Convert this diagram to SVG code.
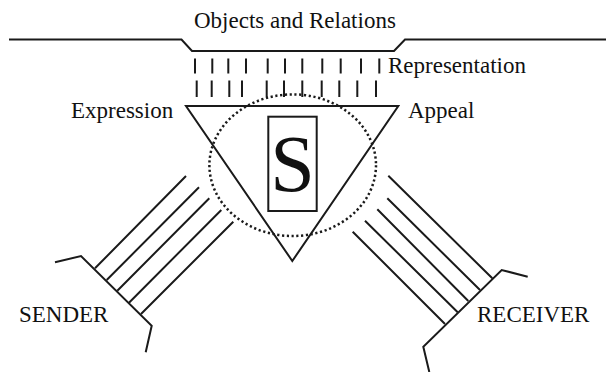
<svg xmlns="http://www.w3.org/2000/svg" width="606" height="372" viewBox="0 0 606 372">
<style>
.ln{fill:none;stroke:#1a1a1a;stroke-width:2;stroke-linejoin:miter;stroke-linecap:butt}
.tx{font-family:"Liberation Serif","Times New Roman",serif;font-size:23px;fill:#111}
.dot{fill:none;stroke:#1a1a1a;stroke-width:2.5;stroke-dasharray:2.2 2.6}
</style>
<rect width="606" height="372" fill="#fff"/>
<g id="objects">
<polyline class="ln" points="9,39.5 181.5,39.5 192,51 394,51 405,39.5 606,39.5"/>
<text class="tx" x="194" y="28">Objects and Relations</text>
</g>
<g id="representation">
<path class="ln" d="M195,58.5v15M212.3,58.5v15M228.3,58.5v15M246,58.5v15M267.7,58.5v15M285,58.5v15M302.3,58.5v15M322.3,58.5v15M340.7,58.5v15M361,58.5v15M379.3,58.5v15"/>
<path class="ln" d="M196.7,80.5v16.5M211.7,80.5v16.5M229.3,80.5v16.5M242,80.5v16.5M266.7,80.5v16.5M284,80.5v16.5M302.3,80.5v16.5M321.7,80.5v16.5M339.3,80.5v16.5M357.3,80.5v16.5M376,80.5v16.5"/>
<text class="tx" x="388" y="72.5">Representation</text>
</g>
<g id="sign">
<polygon class="ln" points="186,106 398.3,106 292.3,261"/>
<rect class="ln" x="268.3" y="116.7" width="48.4" height="94.3"/>
<text x="292.5" y="190.5" text-anchor="middle" style="font-family:'Liberation Serif','Times New Roman',serif;font-size:80px;fill:#111">S</text>
<ellipse class="dot" cx="292.7" cy="165.2" rx="83.3" ry="70.8"/>
</g>
<g id="expression"><text class="tx" x="71" y="118">Expression</text></g>
<g id="appeal"><text class="tx" x="408" y="118">Appeal</text></g>
<g id="sender">
<polyline class="ln" points="55,262.3 81,256 151.7,325.7 145.7,352.3"/>
<text class="tx" x="19" y="322">SENDER</text>
</g>
<g id="receiver">
<polyline class="ln" points="527.7,276.7 501.7,270 423.3,346.7 429.3,372"/>
<text class="tx" x="477" y="322">RECEIVER</text>
</g>
<g id="connectors">
<path class="ln" d="M95,268.3L186,176M106.7,280L199,187.3M117.3,290.7L209.3,198.3M129,302.7L221.3,210M141,314L233.3,221.7"/>
<path class="ln" d="M388.3,175.7L492.3,278.3M387.3,198.3L480,290M377.3,209.3L468.3,301M365,220.7L457.7,312.3M352.7,231.7L445,324"/>
</g>
</svg>
